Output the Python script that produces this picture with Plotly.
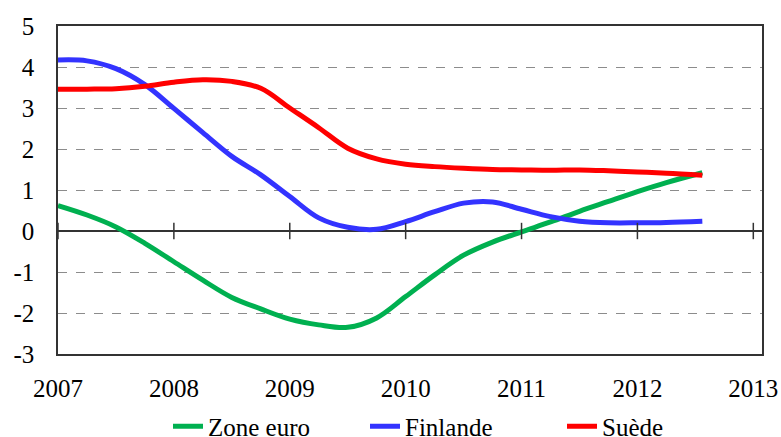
import plotly.graph_objects as go

# Quarterly time positions (decimal years)
t = [2007.00, 2007.25, 2007.50, 2007.75, 2008.00, 2008.25, 2008.50, 2008.75,
     2009.00, 2009.25, 2009.50, 2009.75, 2010.00, 2010.25, 2010.50, 2010.75,
     2011.00, 2011.25, 2011.50, 2011.75, 2012.00, 2012.25, 2012.56]

zone_euro = [0.62, 0.39, 0.10, -0.30, -0.75, -1.20, -1.62, -1.90,
             -2.15, -2.29, -2.35, -2.12, -1.60, -1.07, -0.59, -0.27,
             -0.02, 0.22, 0.48, 0.72, 0.96, 1.18, 1.42]
finlande = [4.17, 4.15, 3.96, 3.57, 2.99, 2.40, 1.82, 1.37,
            0.84, 0.32, 0.09, 0.04, 0.23, 0.47, 0.68, 0.71,
            0.53, 0.35, 0.24, 0.20, 0.20, 0.21, 0.24]
suede = [3.46, 3.46, 3.47, 3.53, 3.63, 3.69, 3.65, 3.48,
         3.00, 2.52, 2.02, 1.76, 1.63, 1.57, 1.53, 1.50,
         1.49, 1.48, 1.49, 1.47, 1.44, 1.41, 1.36]

series_names = ["Zone euro", "Finlande", "Suède"]
series_colors = ["#00B050", "#3333FF", "#FF0000"]

x_ticks = [2007, 2008, 2009, 2010, 2011, 2012, 2013]
y_ticks = [-3, -2, -1, 0, 1, 2, 3, 4, 5]

FONT = "Liberation Serif"

fig = go.Figure()
for name, vals, col in zip(series_names, [zone_euro, finlande, suede], series_colors):
    fig.add_trace(go.Scatter(
        x=t, y=vals, name=name, mode="lines",
        line=dict(color=col, width=5, shape="spline", smoothing=1.0),
        hoverinfo="skip",
    ))

# tick marks crossing the zero line
for xt in x_ticks:
    fig.add_shape(type="line", xref="x", yref="y", x0=xt, x1=xt, y0=-0.2, y1=0.2,
                  line=dict(color="#333333", width=1.5), layer="above")

fig.update_layout(
    width=781, height=437,
    margin=dict(l=58, r=19, t=26, b=83, autoexpand=False),
    paper_bgcolor="white", plot_bgcolor="white",
    font=dict(family=FONT, size=25, color="black"),
    showlegend=True,
    legend=dict(orientation="h", x=0.576, xanchor="center", y=-0.151, yanchor="top",
                font=dict(family=FONT, size=25, color="black"),
                entrywidth=152, entrywidthmode="pixels",
                tracegroupgap=0, bgcolor="rgba(0,0,0,0)"),
)
fig.update_xaxes(
    range=[2007, 2013.075], tickvals=x_ticks, ticktext=[str(v) for v in x_ticks],
    showgrid=False, zeroline=False, showline=True, mirror=True, automargin=False,
    linecolor="#333333", linewidth=1.5, ticks="", ticklabelstandoff=11,
    tickfont=dict(family=FONT, size=25, color="black"),
)
fig.update_yaxes(
    range=[-3, 5], tickvals=y_ticks, ticktext=[str(v) for v in y_ticks],
    showgrid=True, gridcolor="#8c8c8c", gridwidth=1, griddash="dash",
    zeroline=True, zerolinecolor="#333333", zerolinewidth=1.5, automargin=False,
    showline=True, mirror=True, linecolor="#333333", linewidth=1.5,
    ticks="", ticklabelstandoff=17, tickfont=dict(family=FONT, size=25, color="black"),
)

fig.write_html("out.html", config={"displayModeBar": False},
               post_script="document.body.style.margin='0px';")
